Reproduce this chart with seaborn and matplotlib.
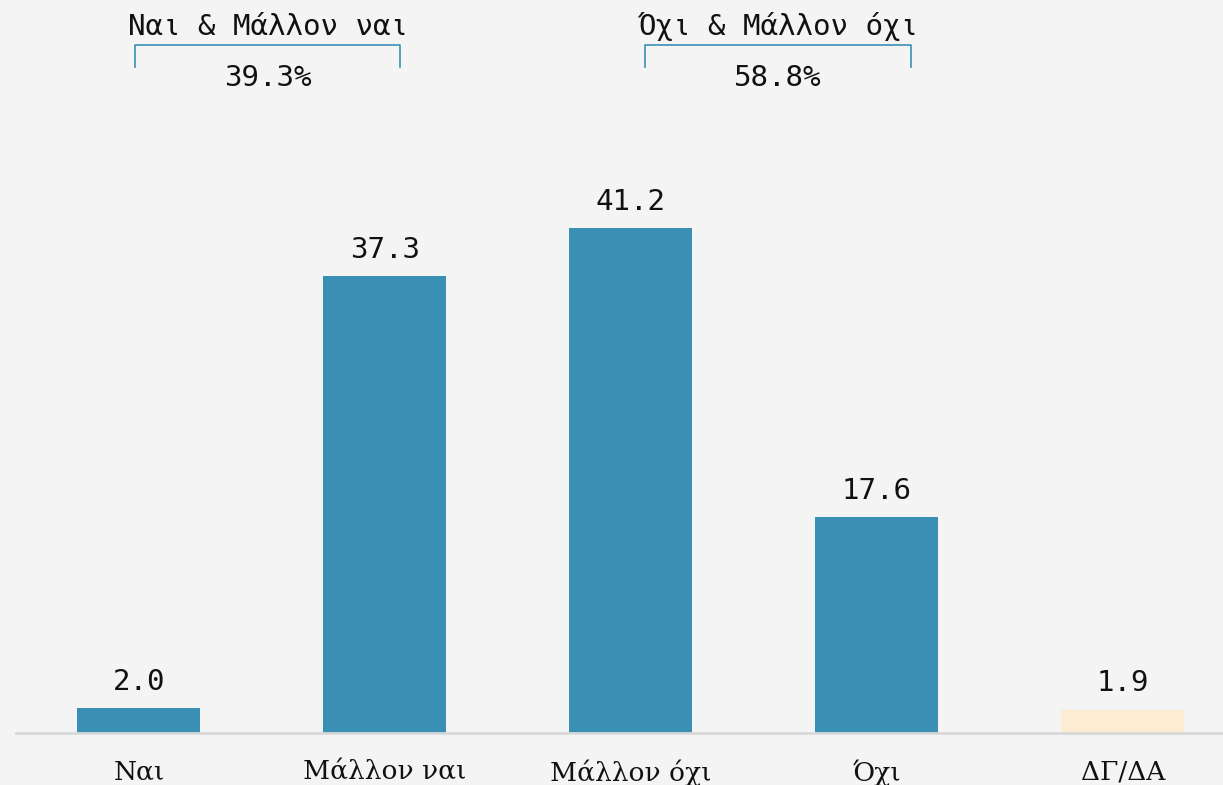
import matplotlib.pyplot as plt
import pandas as pd
import seaborn as sns

# Data
categories = ['Ναι', 'Μάλλον ναι', 'Μάλλον όχι', 'Όχι', 'ΔΓ/ΔΑ']
values = [2.0, 37.3, 41.2, 17.6, 1.9]
bar_colors = ['#3a8fb5', '#3a8fb5', '#3a8fb5', '#3a8fb5', '#fbecd2']

group_labels = ['Ναι & Μάλλον ναι', 'Όχι & Μάλλον όχι']
group_totals = ['39.3%', '58.8%']
group_center = [0.524, 2.598]   # x position (category units) of each group

df = pd.DataFrame({'cat': categories, 'value': values})

bg = '#f4f4f4'
mono = 'DejaVu Sans Mono'
serif = 'DejaVu Serif'

fig = plt.figure(figsize=(12.23, 7.85), dpi=100, facecolor=bg)
ax = fig.add_axes([16 / 1223, 1 - 733 / 785, 1 - 16 / 1223, 733 / 785])
ax.set_facecolor(bg)

sns.barplot(data=df, x='cat', y='value', hue='cat', palette=bar_colors,
            width=0.5, legend=False, ax=ax, saturation=1)

ax.set_xlim(-0.5, 4.407)
ax.set_ylim(0, 59.8)

# value labels above bars
for i, v in enumerate(values):
    ax.text(i, v + 1.0, f'{v:.1f}', ha='center', va='bottom',
            fontsize=21, family=mono, color='#111111')

# group brackets + labels
hw = 0.539
for xm, lab, tot in zip(group_center, group_labels, group_totals):
    x0, x1 = xm - hw, xm + hw
    ax.plot([x0, x0, x1, x1], [54.3, 56.1, 56.1, 54.3], color='#3a8fb5',
            lw=1.2, clip_on=False, solid_joinstyle='round')
    ax.text(xm, 57.6, lab, ha='center', va='center', fontsize=21,
            family=mono, color='#111111', clip_on=False)
    ax.text(xm, 53.4, tot, ha='center', va='center', fontsize=21,
            family=mono, color='#111111', clip_on=False)

# axes styling
for side in ['top', 'right', 'left']:
    ax.spines[side].set_visible(False)
ax.spines['bottom'].set_color('#d8d8d8')
ax.spines['bottom'].set_linewidth(2)
ax.set_yticks([])
ax.set_xlabel('')
ax.set_ylabel('')
ax.tick_params(axis='x', length=0, pad=19)
for t in ax.get_xticklabels():
    t.set_fontfamily(serif)
    t.set_fontsize(19)
    t.set_color('#111111')

fig.savefig('out.png', dpi=100, facecolor=bg)
